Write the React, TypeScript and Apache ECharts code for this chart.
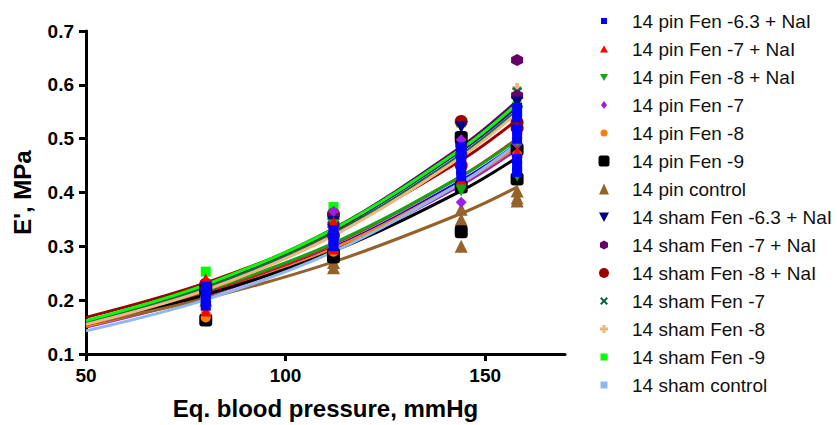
import React, { useEffect, useRef } from "react";
import * as echarts from "echarts";

// ---- data ----
const seriesNames = [
  "14 pin Fen -6.3 + NaI",
  "14 pin Fen -7 + NaI",
  "14 pin Fen -8 + NaI",
  "14 pin Fen -7",
  "14 pin Fen -8",
  "14 pin Fen -9",
  "14 pin control",
  "14 sham Fen -6.3 + NaI",
  "14 sham Fen -7 + NaI",
  "14 sham Fen -8 + NaI",
  "14 sham Fen -7",
  "14 sham Fen -8",
  "14 sham Fen -9",
  "14 sham control",
];

const xLevels = [80, 112, 144, 158];
const curveX = [50, 80, 112, 144, 158];

// replicate values at each pressure level (80, 112, 144, 158)
const pinFen63NaI = [[0.225, 0.215, 0.2, 0.19], [0.33, 0.32, 0.31, 0.3], [0.484, 0.47, 0.458, 0.443, 0.43], [0.557, 0.54, 0.517, 0.5, 0.462, 0.45, 0.438]];
const pinFen7NaI = [[0.24, 0.18], [0.345, 0.295], [0.452, 0.425], [0.52, 0.476]];
const pinFen8NaI = [[0.21, 0.2], [0.34, 0.31], [0.462, 0.406, 0.403], [0.548, 0.493, 0.43]];
const pinFen7 = [[0.205], [0.365, 0.3], [0.498, 0.382], [0.465, 0.49]];
const pinFen8 = [[0.175, 0.168], [0.31, 0.29], [0.462, 0.44], [0.5, 0.47]];
const pinFen9 = [[0.163, 0.22], [0.285, 0.28], [0.502, 0.41, 0.327], [0.48, 0.425]];
const pinControl = [[0.2], [0.26, 0.27], [0.369, 0.35, 0.3], [0.403, 0.384, 0.39]];
const shamFen63NaI = [[0.215], [0.345, 0.33], [0.521, 0.47], [0.567, 0.55]];
const shamFen7NaI = [[0.22], [0.355, 0.34], [0.489, 0.47], [0.646, 0.58, 0.52]];
const shamFen8NaI = [[0.23, 0.22], [0.36, 0.32], [0.532, 0.45], [0.52, 0.53]];
const shamFen7 = [[0.21], [0.34], [0.45, 0.48], [0.587, 0.548]];
const shamFen8 = [[0.205], [0.33], [0.46], [0.594, 0.53]];
const shamFen9 = [[0.253, 0.21], [0.373, 0.35], [0.53, 0.48], [0.55, 0.56]];
const shamControl = [[0.2, 0.19], [0.3, 0.29], [0.44, 0.42], [0.49, 0.48]];

// fitted curve values read at 50, 80, 112, 144, 158
const fitPinFen63NaI = [0.152, 0.211, 0.298, 0.422, 0.49];
const fitPinFen7NaI = [0.155, 0.215, 0.304, 0.43, 0.5];
const fitPinFen8NaI = [0.158, 0.218, 0.306, 0.43, 0.498];
const fitPinFen7 = [0.15, 0.208, 0.294, 0.414, 0.48];
const fitPinFen8 = [0.152, 0.21, 0.296, 0.418, 0.485];
const fitPinFen9 = [0.155, 0.21, 0.291, 0.403, 0.465];
const fitPinControl = [0.155, 0.203, 0.271, 0.361, 0.41];
const fitShamFen63NaI = [0.161, 0.227, 0.33, 0.478, 0.56];
const fitShamFen7NaI = [0.16, 0.228, 0.333, 0.485, 0.57];
const fitShamFen8NaI = [0.168, 0.232, 0.327, 0.46, 0.535];
const fitShamFen7 = [0.158, 0.223, 0.324, 0.47, 0.552];
const fitShamFen8 = [0.155, 0.219, 0.32, 0.466, 0.548];
const fitShamFen9 = [0.162, 0.229, 0.332, 0.481, 0.565];
const fitShamControl = [0.143, 0.201, 0.29, 0.418, 0.49];

const yTicks = [0.1, 0.2, 0.3, 0.4, 0.5, 0.6, 0.7];
const xTicks = [50, 100, 150];

const pointSets = [
  pinFen63NaI, pinFen7NaI, pinFen8NaI, pinFen7, pinFen8, pinFen9, pinControl,
  shamFen63NaI, shamFen7NaI, shamFen8NaI, shamFen7, shamFen8, shamFen9, shamControl,
];
const fitSets = [
  fitPinFen63NaI, fitPinFen7NaI, fitPinFen8NaI, fitPinFen7, fitPinFen8, fitPinFen9, fitPinControl,
  fitShamFen63NaI, fitShamFen7NaI, fitShamFen8NaI, fitShamFen7, fitShamFen8, fitShamFen9, fitShamControl,
];

// ---- styles ----
const colors = [
  "#0000ff", "#ff0000", "#10a810", "#9a1ee6", "#ff8000", "#000000", "#94622a",
  "#000080", "#660066", "#9c0000", "#10664a", "#f2b57e", "#00ff00", "#8fb8f0",
];
const X_PATH = "path://M0 1.5L1.5 0L4 2.5L6.5 0L8 1.5L5.5 4L8 6.5L6.5 8L4 5.5L1.5 8L0 6.5L2.5 4Z";
const PLUS_PATH = "path://M2.5 0H5.5V2.5H8V5.5H5.5V8H2.5V5.5H0V2.5H2.5Z";
const HEX_PATH = "path://M4 0L8 2.3V6.7L4 9L0 6.7V2.3Z";
const symbols = [
  "rect", "triangle", "triangle", "diamond", "circle", "roundRect", "triangle",
  "triangle", HEX_PATH, "circle", X_PATH, PLUS_PATH, "rect", "rect",
];
const rotates = [0, 0, 180, 0, 0, 0, 0, 180, 0, 0, 0, 0, 0, 0];
const sizes = [10, 11, 11, 11, 10, 13, 13, 12, 12, 13, 10, 10, 10, 10];

const B = "path://M0 0M30 14";
const legendIcons = [
  B + "M4 4H10V10H4Z",
  B + "M7 3.5L11 10.5H3Z",
  B + "M3 4H11L7 11Z",
  B + "M7 3L10 7L7 11L4 7Z",
  B + "M3.5 7A3.5 3.5 0 1 1 10.5 7A3.5 3.5 0 1 1 3.5 7Z",
  B + "M1.5 4Q1.5 1.5 4 1.5H10Q12.5 1.5 12.5 4V10Q12.5 12.5 10 12.5H4Q1.5 12.5 1.5 10Z",
  B + "M7 1.5L12 12.5H2Z",
  B + "M2 2.5H12L7 12Z",
  B + "M7 2.5L11 4.8V9.2L7 11.5L3 9.2V4.8Z",
  B + "M2 7A5 5 0 1 1 12 7A5 5 0 1 1 2 7Z",
  B + "M3 4.5L4.5 3L7 5.5L9.5 3L11 4.5L8.5 7L11 9.5L9.5 11L7 8.5L4.5 11L3 9.5L5.5 7Z",
  B + "M5.5 3H8.5V5.5H11V8.5H8.5V11H5.5V8.5H3V5.5H5.5Z",
  B + "M3.5 3.5H10.5V10.5H3.5Z",
  B + "M3.5 3.5H10.5V10.5H3.5Z",
];

const FONT = "'Liberation Sans', Arial, sans-serif";

export default function App() {
  const ref = useRef<HTMLDivElement>(null);
  useEffect(() => {
    document.body.style.margin = "0";
    if (!ref.current) return;
    const chart = echarts.init(ref.current, undefined, { renderer: "svg" });

    const lineSeries = seriesNames.map((name, i) => ({
      name: name + " fit",
      type: "line",
      data: curveX.map((x, k) => [x, fitSets[i][k]]),
      smooth: 0.35,
      showSymbol: false,
      symbol: "none",
      silent: true,
      z: 2,
      lineStyle: { color: colors[i], width: 3 },
      itemStyle: { color: colors[i] },
    }));

    const scatterSeries = seriesNames.map((name, i) => {
      const data: number[][] = [];
      pointSets[i].forEach((vals, k) => vals.forEach((v) => data.push([xLevels[k], v])));
      return {
        name,
        type: "scatter",
        data,
        symbol: symbols[i],
        symbolSize: sizes[i],
        symbolRotate: rotates[i],
        z: 3,
        itemStyle: { color: colors[i], opacity: 1 },
      };
    });
    // first listed group drawn on top
    const scatterDrawOrder = scatterSeries.slice().reverse();

    chart.setOption({
      animation: false,
      backgroundColor: "#ffffff",
      grid: { left: 86, right: 272, top: 31, bottom: 69, containLabel: false },
      legend: {
        orient: "vertical",
        left: 592,
        top: 6,
        itemWidth: 30,
        itemHeight: 14,
        itemGap: 8,
        selectedMode: false,
        data: seriesNames.map((name, i) => ({ name, icon: legendIcons[i] })),
        textStyle: { fontSize: 19, fontFamily: FONT, color: "#111", lineHeight: 20, padding: [0, 0, 0, 0] },
      },
      xAxis: {
        type: "value",
        min: xTicks[0],
        max: 170,
        interval: xTicks[1] - xTicks[0],
        name: "Eq. blood pressure, mmHg",
        nameLocation: "middle",
        nameGap: 42,
        nameTextStyle: { fontSize: 24, fontWeight: "bold", fontFamily: FONT, color: "#000" },
        axisLine: { onZero: false, lineStyle: { color: "#000", width: 3 } },
        axisTick: { length: 7, lineStyle: { color: "#000", width: 3 } },
        axisLabel: {
          fontSize: 19,
          fontWeight: "bold",
          fontFamily: FONT,
          color: "#000",
          margin: 12,
          showMaxLabel: false,
        },
        splitLine: { show: false },
      },
      yAxis: {
        type: "value",
        min: yTicks[0],
        max: yTicks[yTicks.length - 1],
        interval: 0.1,
        name: "E', MPa",
        nameLocation: "middle",
        nameGap: 52,
        nameTextStyle: { fontSize: 24, fontWeight: "bold", fontFamily: FONT, color: "#000" },
        axisLine: { onZero: false, lineStyle: { color: "#000", width: 3 } },
        axisTick: { length: 7, lineStyle: { color: "#000", width: 3 } },
        axisLabel: {
          fontSize: 19,
          fontWeight: "bold",
          fontFamily: FONT,
          color: "#000",
          margin: 12,
          formatter: (v: number) => v.toFixed(1),
        },
        splitLine: { show: false },
      },
      series: [...lineSeries, ...scatterDrawOrder],
    });
    return () => chart.dispose();
  }, []);
  return <div ref={ref} style={{ width: 837, height: 425 }} />;
}
